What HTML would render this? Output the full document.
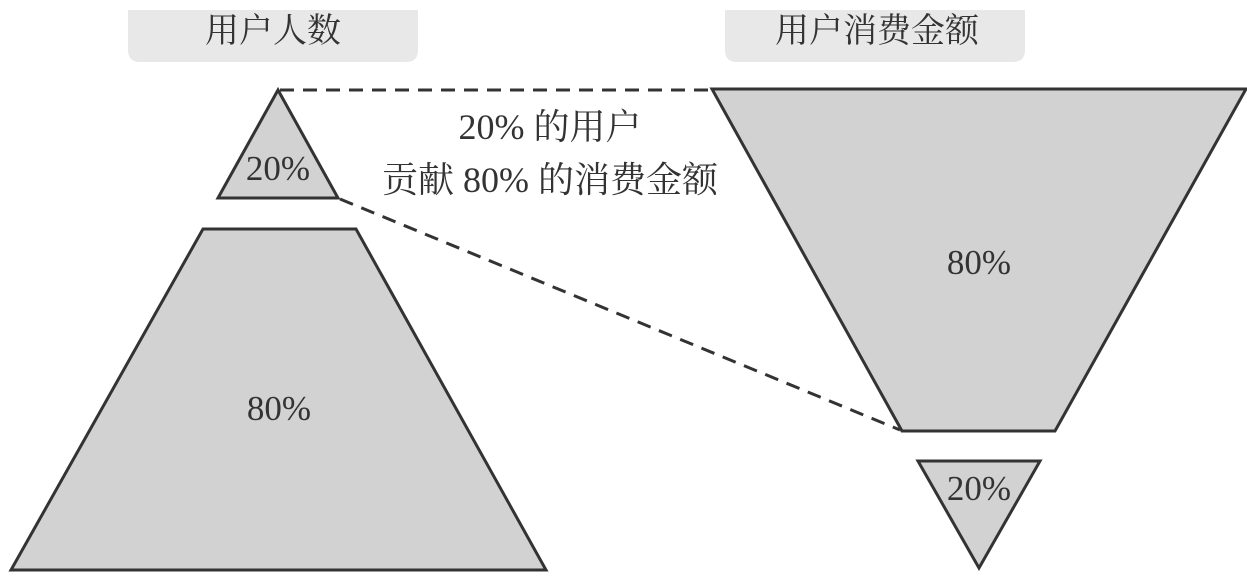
<!DOCTYPE html>
<html><head><meta charset="utf-8"><style>
html,body{margin:0;padding:0;background:#fff;}
body{width:1247px;height:575px;overflow:hidden;}
svg text{font-family:"Liberation Serif","Noto Serif CJK SC",serif;fill:#333;}
</style></head><body>
<svg width="1247" height="575" viewBox="0 0 1247 575" xmlns="http://www.w3.org/2000/svg">
<path d="M128 10 H418 V50 Q418 62 406 62 H140 Q128 62 128 50 Z" fill="#e8e8e8"/>
<path d="M725 10 H1025 V50 Q1025 62 1013 62 H737 Q725 62 725 50 Z" fill="#e8e8e8"/>
<text x="273" y="42" font-size="34" text-anchor="middle">用户人数</text>
<text x="877" y="42" font-size="34" text-anchor="middle">用户消费金额</text>
<g fill="#d2d2d2" stroke="#333" stroke-width="3" stroke-linejoin="miter">
<polygon points="278,90 218,198 338,198"/>
<polygon points="203,229 356,229 546,570 11,570"/>
<polygon points="712,89 1246,89 1055,431 902,431"/>
<polygon points="918,461 1040,461 979,568"/>
</g>
<g stroke="#333" stroke-width="3" stroke-dasharray="14,9" fill="none">
<line x1="280" y1="90" x2="712" y2="90"/>
<line x1="340" y1="199" x2="900" y2="430"/>
</g>
<text x="278" y="180" font-size="35" text-anchor="middle">20%</text>
<text x="279" y="420" font-size="35" text-anchor="middle">80%</text>
<text x="979" y="274" font-size="35" text-anchor="middle">80%</text>
<text x="979" y="500" font-size="35" text-anchor="middle">20%</text>
<text x="550" y="139" font-size="36" text-anchor="middle">20% 的用户</text>
<text x="550" y="192" font-size="36" text-anchor="middle">贡献 80% 的消费金额</text>
</svg>
</body></html>
